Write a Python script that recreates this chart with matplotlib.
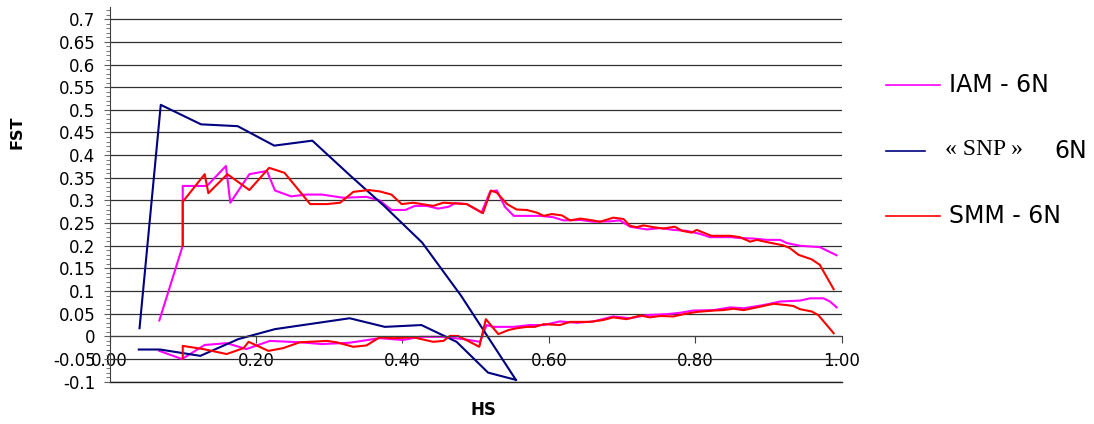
import matplotlib
matplotlib.use("Agg")
import matplotlib.pyplot as plt
from matplotlib.lines import Line2D
from matplotlib.ticker import FixedLocator, MultipleLocator, FuncFormatter

# IAM - 6N (upper and lower curves)
iam_hs_up = [0.068, 0.100, 0.100, 0.133, 0.159, 0.165, 0.191, 0.215, 0.226, 0.248, 0.269, 0.290,
             0.319, 0.351, 0.369, 0.385, 0.404, 0.417, 0.433, 0.449, 0.463, 0.472, 0.488, 0.508,
             0.520, 0.529, 0.540, 0.552, 0.570, 0.588, 0.606, 0.620, 0.643, 0.661, 0.684, 0.697,
             0.711, 0.734, 0.752, 0.770, 0.788, 0.807, 0.820, 0.848, 0.861, 0.879, 0.898, 0.916,
             0.925, 0.943, 0.970, 0.993]
iam_fst_up = [0.035, 0.200, 0.332, 0.332, 0.376, 0.295, 0.358, 0.365, 0.322, 0.309, 0.313, 0.313,
              0.306, 0.308, 0.300, 0.279, 0.279, 0.288, 0.288, 0.282, 0.286, 0.294, 0.292, 0.273,
              0.320, 0.322, 0.286, 0.266, 0.266, 0.266, 0.263, 0.256, 0.257, 0.253, 0.254, 0.256,
              0.242, 0.236, 0.239, 0.235, 0.233, 0.226, 0.219, 0.219, 0.217, 0.216, 0.213, 0.213,
              0.206, 0.200, 0.197, 0.179]
iam_hs_low = [0.068, 0.099, 0.130, 0.160, 0.187, 0.219, 0.260, 0.290, 0.328, 0.369, 0.401, 0.424,
              0.456, 0.483, 0.506, 0.515, 0.524, 0.552, 0.574, 0.593, 0.615, 0.638, 0.661, 0.688,
              0.711, 0.734, 0.761, 0.779, 0.797, 0.825, 0.848, 0.866, 0.893, 0.916, 0.943, 0.957,
              0.975, 0.984, 0.993]
iam_fst_low = [-0.032, -0.050, -0.019, -0.015, -0.028, -0.010, -0.013, -0.017, -0.014, -0.004, -0.008, -0.001,
               -0.001, -0.006, -0.012, 0.025, 0.021, 0.021, 0.025, 0.025, 0.033, 0.030, 0.033, 0.044,
               0.040, 0.047, 0.049, 0.052, 0.057, 0.058, 0.064, 0.062, 0.069, 0.077, 0.079, 0.084,
               0.084, 0.077, 0.064]

# "SNP" 6N
snp_hs_up = [0.041, 0.070, 0.125, 0.175, 0.225, 0.277, 0.328, 0.375, 0.427, 0.480, 0.555]
snp_fst_up = [0.018, 0.511, 0.468, 0.464, 0.421, 0.432, 0.356, 0.288, 0.207, 0.090, -0.096]
snp_hs_low = [0.040, 0.069, 0.124, 0.176, 0.226, 0.328, 0.376, 0.426, 0.474, 0.517, 0.555]
snp_fst_low = [-0.029, -0.029, -0.043, -0.006, 0.016, 0.040, 0.021, 0.025, -0.012, -0.080, -0.096]

# SMM - 6N
smm_hs_up = [0.100, 0.100, 0.130, 0.135, 0.161, 0.191, 0.218, 0.239, 0.274, 0.297, 0.315, 0.333,
             0.354, 0.369, 0.385, 0.399, 0.415, 0.442, 0.456, 0.488, 0.497, 0.510, 0.521, 0.529,
             0.543, 0.556, 0.570, 0.584, 0.593, 0.604, 0.618, 0.629, 0.643, 0.656, 0.670, 0.688,
             0.702, 0.711, 0.720, 0.729, 0.743, 0.756, 0.772, 0.782, 0.795, 0.802, 0.822, 0.848,
             0.861, 0.875, 0.884, 0.898, 0.920, 0.929, 0.941, 0.959, 0.970, 0.989]
smm_fst_up = [0.200, 0.297, 0.358, 0.316, 0.358, 0.323, 0.372, 0.361, 0.292, 0.292, 0.295, 0.319,
              0.323, 0.320, 0.313, 0.292, 0.295, 0.288, 0.295, 0.292, 0.284, 0.272, 0.322, 0.317,
              0.292, 0.280, 0.279, 0.273, 0.266, 0.270, 0.267, 0.256, 0.260, 0.257, 0.253, 0.262,
              0.259, 0.244, 0.241, 0.245, 0.241, 0.238, 0.242, 0.233, 0.229, 0.235, 0.222, 0.222,
              0.219, 0.209, 0.213, 0.208, 0.201, 0.195, 0.180, 0.170, 0.158, 0.104]
smm_hs_low = [0.100, 0.100, 0.128, 0.160, 0.183, 0.190, 0.217, 0.237, 0.260, 0.297, 0.310, 0.333,
              0.351, 0.369, 0.388, 0.415, 0.442, 0.456, 0.465, 0.476, 0.492, 0.505, 0.514, 0.531,
              0.545, 0.556, 0.570, 0.581, 0.593, 0.615, 0.629, 0.656, 0.674, 0.688, 0.706, 0.725,
              0.738, 0.752, 0.770, 0.784, 0.802, 0.825, 0.838, 0.852, 0.866, 0.884, 0.907, 0.925,
              0.934, 0.943, 0.959, 0.968, 0.989]
smm_fst_low = [-0.049, -0.021, -0.028, -0.039, -0.026, -0.012, -0.032, -0.026, -0.013, -0.010, -0.013, -0.023,
               -0.020, -0.002, -0.004, -0.002, -0.012, -0.010, 0.001, 0.001, -0.012, -0.023, 0.038, 0.005,
               0.014, 0.018, 0.021, 0.021, 0.027, 0.025, 0.032, 0.032, 0.036, 0.042, 0.038, 0.046,
               0.042, 0.045, 0.044, 0.049, 0.054, 0.057, 0.058, 0.061, 0.058, 0.064, 0.072, 0.069,
               0.067, 0.060, 0.055, 0.047, 0.007]

y_major = [round(-0.1 + 0.05 * i, 2) for i in range(17)]
y_minor = [round(-0.1 + 0.01 * i, 2) for i in range(83)]

c_iam, c_snp, c_smm = "#FF00FF", "#000080", "#FF0000"

plt.rcParams["font.family"] = ["DejaVu Sans"]
fig = plt.figure(figsize=(10.94, 4.24), dpi=100)
ax = fig.add_axes([0.1001, 0.0998, 0.6693, 0.8837])

lw = 1.5
ax.plot(iam_hs_up, iam_fst_up, color=c_iam, lw=lw)
ax.plot(iam_hs_low, iam_fst_low, color=c_iam, lw=lw)
ax.plot(snp_hs_up, snp_fst_up, color=c_snp, lw=lw)
ax.plot(snp_hs_low, snp_fst_low, color=c_snp, lw=lw)
ax.plot(smm_hs_up, smm_fst_up, color=c_smm, lw=lw)
ax.plot(smm_hs_low, smm_fst_low, color=c_smm, lw=lw)

ax.set_xlim(0, 1.0)
ax.set_ylim(-0.1, 0.727)

# axes look
ax.yaxis.set_major_locator(FixedLocator(y_major))
ax.yaxis.set_minor_locator(FixedLocator(y_minor))
ax.yaxis.set_major_formatter(FuncFormatter(lambda v, p: "%g" % round(v, 2)))
ax.xaxis.set_major_locator(MultipleLocator(0.2))
ax.xaxis.set_major_formatter(FuncFormatter(lambda v, p: "%.2f" % v))
ax.grid(axis="y", which="major", color="#303030", lw=0.9)
ax.axhline(-0.1, color="#202020", lw=1.0, clip_on=False, zorder=0.5)
ax.set_axisbelow(True)

for s in ["top", "right"]:
    ax.spines[s].set_visible(False)
ax.spines["bottom"].set_position(("data", 0))
ax.spines["left"].set_bounds(-0.1, 0.727)
ax.spines["left"].set_color("#404040")
ax.spines["bottom"].set_color("#404040")
ax.tick_params(axis="y", which="major", direction="out", length=4, color="#606060",
               labelsize=12, pad=6)
ax.tick_params(axis="y", which="minor", direction="out", length=3, color="#606060")
ax.tick_params(axis="x", which="major", direction="out", length=5, color="#404040",
               labelsize=12, pad=6)

fig.text(17 / 1094, 1 - 132 / 424, "FST", rotation=90, fontsize=11.5, fontweight="bold",
         ha="center", va="center")
fig.text(483 / 1094, 1 - 410 / 424, "HS", fontsize=12, fontweight="bold",
         ha="center", va="center")

# legend drawn by hand
def leg_line(x0, x1, y, color):
    fig.add_artist(Line2D([x0 / 1094, x1 / 1094], [1 - y / 424, 1 - y / 424],
                          transform=fig.transFigure, color=color, lw=1.2))

leg_line(886, 940, 85, c_iam)
fig.text(949 / 1094, 1 - 85 / 424, "IAM - 6N", fontsize=17, va="center", ha="left")
leg_line(886, 925, 151, c_snp)
fig.text(945 / 1094, 1 - 155 / 424, "« SNP »", fontsize=17, va="baseline", ha="left",
         family=["Liberation Serif", "DejaVu Serif"])
fig.text(1054 / 1094, 1 - 151 / 424, "6N", fontsize=17, va="center", ha="left")
leg_line(886, 940, 216, c_smm)
fig.text(949 / 1094, 1 - 216 / 424, "SMM - 6N", fontsize=17, va="center", ha="left")

fig.savefig("out.png", dpi=100)
